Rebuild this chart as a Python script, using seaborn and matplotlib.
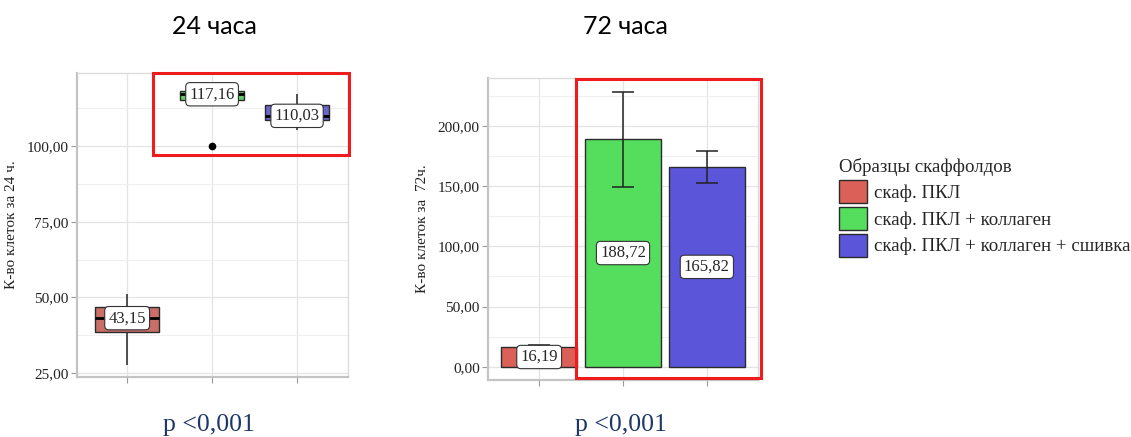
import numpy as np
import pandas as pd
import matplotlib
matplotlib.use("Agg")
import matplotlib.pyplot as plt
from matplotlib.patches import Rectangle, Patch
from matplotlib.ticker import FuncFormatter, MultipleLocator
import seaborn as sns

# Groups and colours
groups = ["скаф. ПКЛ", "скаф. ПКЛ + коллаген", "скаф. ПКЛ + коллаген + сшивка"]
colors = ["#DA6058", "#55DD5E", "#5B55D9"]

# 24 h: five-number summaries per group (low, Q1, median, Q3, high)
low_24 = [27.8, 100.1, 105.3]
q1_24 = [38.7, 115.2, 108.6]
median_24 = [43.15, 117.16, 110.03]
q3_24 = [47.0, 118.3, 113.6]
high_24 = [51.0, 118.3, 117.4]

# 72 h: means with error half-widths
mean_72 = [16.19, 188.72, 165.82]
err_72 = [1.9, 39.4, 13.6]

titles = ["24 часа", "72 часа"]
ylabels = ["К-во клеток за 24 ч.", "К-во клеток за  72ч."]
p_text = "p <0,001"
legend_title = "Образцы скаффолдов"

sns.set_theme(style="whitegrid")
plt.rcParams["font.family"] = ["Liberation Serif", "DejaVu Serif"]

fig = plt.figure(figsize=(11.31, 4.37), dpi=100)
ax1 = fig.add_axes([0.0681, 0.1373, 0.2396, 0.6957])
ax2 = fig.add_axes([0.4315, 0.1304, 0.2387, 0.6910])

comma = FuncFormatter(lambda v, _: f"{v:.2f}".replace(".", ","))


def fmt(v):
    return f"{v:.2f}".replace(".", ",")


label_box = dict(boxstyle="round,pad=0.22,rounding_size=0.25", fc="white",
                 ec="#333333", lw=0.8)

# ---- 24 h boxplot ----
rows = []
for g, vals in zip(groups, zip(low_24, q1_24, median_24, q3_24, high_24)):
    for v in vals:
        rows.append((g, v))
df24 = pd.DataFrame(rows, columns=["group", "value"])

sns.boxplot(data=df24, x="group", y="value", hue="group", order=groups,
            hue_order=groups, palette=colors, width=0.75, linewidth=1.0,
            linecolor="#2b2b2b", showcaps=False, legend=False, ax=ax1,
            medianprops=dict(color="black", linewidth=2.0),
            whiskerprops=dict(color="#333333", linewidth=1.2),
            flierprops=dict(marker="o", markerfacecolor="black",
                            markeredgecolor="black", markersize=4.5))
for i, m in enumerate(median_24):
    ax1.text(i, m, fmt(m), ha="center", va="center", fontsize=12,
             bbox=label_box, zorder=6)

ax1.set_ylim(23.7, 124.2)
ax1.set_xlim(-0.59, 2.6)
ax1.yaxis.set_major_locator(MultipleLocator(25))
ax1.yaxis.set_minor_locator(MultipleLocator(12.5))
ax1.add_patch(Rectangle((0.31, 97.0), 2.3, 27.1, fill=False, ec="#EE1C1C",
                        lw=2.2, transform=ax1.transData, clip_on=False, zorder=10))

# ---- 72 h barplot ----
df72 = pd.DataFrame({"group": groups, "value": mean_72})
sns.barplot(data=df72, x="group", y="value", hue="group", order=groups,
            hue_order=groups, palette=colors, width=0.9, errorbar=None,
            edgecolor="#2b2b2b", linewidth=1.0, saturation=1, legend=False, ax=ax2)
ax2.errorbar(np.arange(len(groups)), mean_72, yerr=err_72, fmt="none",
             ecolor="#222222", elinewidth=1.1, capsize=8, capthick=1.1, zorder=5)
for i, m in enumerate(mean_72):
    ax2.text(i, m / 2, fmt(m), ha="center", va="center", fontsize=12,
             bbox=label_box, zorder=6)

ax2.set_ylim(-11, 239.6)
ax2.set_xlim(-0.61, 2.61)
ax2.yaxis.set_major_locator(MultipleLocator(50))
ax2.yaxis.set_minor_locator(MultipleLocator(25))
ax2.add_patch(Rectangle((0.44, -9.4), 2.2, 248.2, fill=False, ec="#EE1C1C",
                        lw=2.2, transform=ax2.transData, clip_on=False, zorder=10))

# ---- shared axis styling ----
for ax, yl in zip((ax1, ax2), ylabels):
    ax.set_facecolor("white")
    ax.yaxis.set_major_formatter(comma)
    ax.set_xlabel("")
    ax.set_xticks(range(len(groups)))
    ax.set_xticklabels([])
    ax.set_ylabel(yl, fontsize=11, color="#222222", labelpad=6)
    ax.grid(True, which="major", color="#e4e4e4", lw=0.9)
    ax.grid(True, which="minor", axis="y", color="#efefef", lw=0.8)
    ax.set_axisbelow(True)
    ax.tick_params(axis="y", which="major", labelsize=11, labelcolor="#222222",
                   length=4, width=0.8, color="#999999", left=True, pad=2)
    ax.tick_params(axis="y", which="minor", left=False)
    ax.tick_params(axis="x", length=4, width=0.8, color="#999999", bottom=True)
    for side, sp in ax.spines.items():
        sp.set_visible(True)
        if side in ("left", "bottom"):
            sp.set_color("#c4c4c4")
            sp.set_linewidth(1.6)
        else:
            sp.set_color("#dcdcdc")
            sp.set_linewidth(1.0)

# ---- titles and p-values ----
for x, t in zip((0.19, 0.553), titles):
    fig.text(x, 0.94, t, ha="center", va="center", fontsize=18,
             family=["Lato", "DejaVu Sans"], color="black")
for x in (0.185, 0.549):
    fig.text(x, 0.028, p_text, ha="center", va="center", fontsize=18.5,
             color="#1F3668")

# ---- legend ----
handles = [Patch(facecolor=c, edgecolor="#2b2b2b", lw=1.0) for c in colors]
leg = fig.legend(handles, groups, title=legend_title, loc="upper left",
                 bbox_to_anchor=(0.742, 0.638), frameon=False, fontsize=13.6,
                 title_fontsize=13.6, handlelength=1.45, handleheight=1.5,
                 handletextpad=0.4, labelspacing=0.2, borderaxespad=0,
                 borderpad=0)
leg._legend_box.align = "left"

fig.savefig("out.png", dpi=100)
